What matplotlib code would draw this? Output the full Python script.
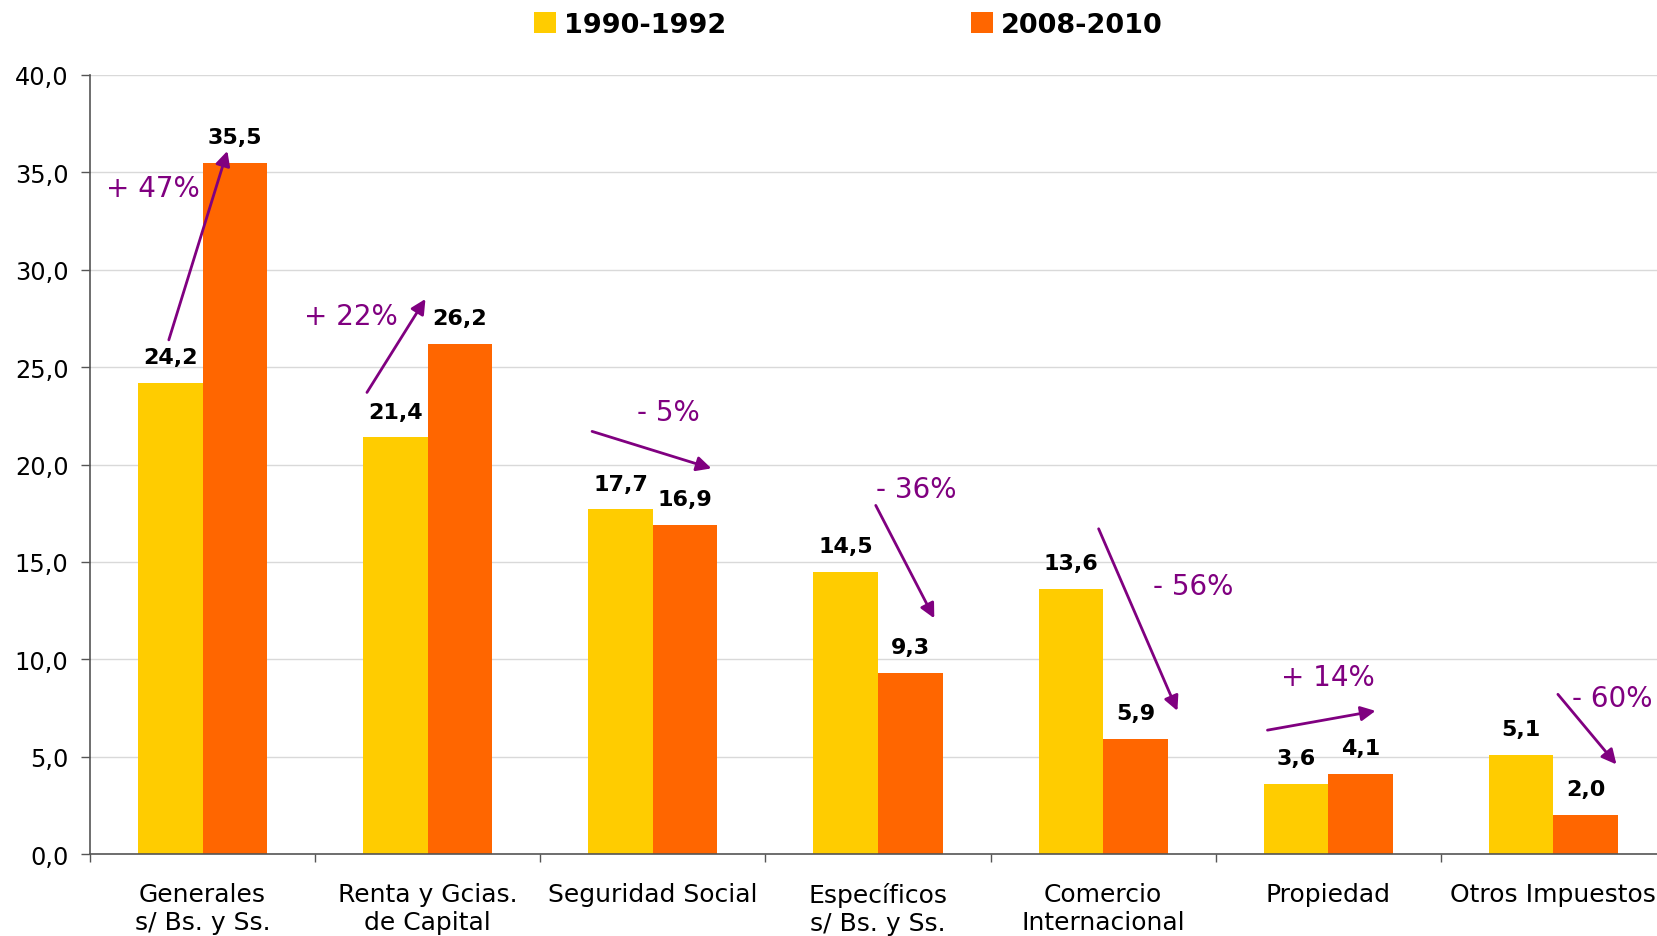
import numpy as np
import matplotlib.pyplot as plt

# datos
categorias = ["Generales\ns/ Bs. y Ss.", "Renta y Gcias.\nde Capital", "Seguridad Social",
              "Específicos\ns/ Bs. y Ss.", "Comercio\nInternacional", "Propiedad", "Otros Impuestos"]
v_1990 = [24.2, 21.4, 17.7, 14.5, 13.6, 3.6, 5.1]
v_2008 = [35.5, 26.2, 16.9, 9.3, 5.9, 4.1, 2.0]
series = ["1990-1992", "2008-2010"]
yticks = [0, 5, 10, 15, 20, 25, 30, 35, 40]
ytick_labels = ["0,0", "5,0", "10,0", "15,0", "20,0", "25,0", "30,0", "35,0", "40,0"]

# variaciones: texto, posicion del texto, inicio y fin de la flecha
var_txt = ["+ 47%", "+ 22%", "- 5%", "- 36%", "- 56%", "+ 14%", "- 60%"]
var_pos = [(-0.22, 34.2), (0.66, 27.6), (2.07, 22.7), (3.17, 18.75), (4.40, 13.75), (5.0, 9.1), (6.26, 8.0)]
flecha_ini = [(-0.15, 26.4), (0.73, 23.7), (1.73, 21.7), (2.99, 17.9), (3.98, 16.7), (4.73, 6.36), (6.02, 8.2)]
flecha_fin = [(0.11, 36.1), (0.99, 28.5), (2.26, 19.8), (3.25, 12.1), (4.33, 7.35), (5.21, 7.35), (6.28, 4.6)]

amarillo = "#FFCC00"
naranja = "#FF6600"
violeta = "#800080"

fig = plt.figure(figsize=(16.58, 9.37), dpi=100)
ax = fig.add_axes([0.0543, 0.0875, 0.9505, 0.8314])

x = np.arange(len(categorias))
w = 0.287
b1 = ax.bar(x - w / 2, v_1990, w, color=amarillo, label=series[0], zorder=2)
b2 = ax.bar(x + w / 2, v_2008, w, color=naranja, label=series[1], zorder=2)

def fmt(v):
    return ("%.1f" % v).replace(".", ",")

for xs, vals in [(x - w / 2, v_1990), (x + w / 2, v_2008)]:
    for xi, v in zip(xs, vals):
        ax.annotate(fmt(v), (xi, v), xytext=(0, 18.5), textcoords="offset points",
                    ha="center", va="center", fontsize=16, fontweight="bold", zorder=4)

for t, p, a, b in zip(var_txt, var_pos, flecha_ini, flecha_fin):
    ax.annotate("", xy=b, xytext=a,
                arrowprops=dict(arrowstyle="-|>", color=violeta, lw=2, mutation_scale=22,
                                shrinkA=0, shrinkB=0), zorder=5)
    ax.text(p[0], p[1], t, color=violeta, fontsize=20, ha="center", va="center", zorder=5)

ax.set_xlim(-0.5, len(categorias) - 0.5)
ax.set_ylim(0, 40)
ax.set_yticks(yticks)
ax.set_yticklabels(ytick_labels)
ax.tick_params(axis="y", labelsize=17.3, length=6.5, width=1, color="#555555", pad=9)

# separadores de categoria como ticks mayores, etiquetas en ticks menores
ax.set_xticks(np.arange(len(categorias) + 1) - 0.5)
ax.set_xticklabels([])
ax.set_xticks(x, minor=True)
ax.set_xticklabels(categorias, minor=True, fontsize=18)
ax.tick_params(axis="x", which="major", length=6, width=1, color="#555555")
ax.tick_params(axis="x", which="minor", length=0, pad=20)

ax.grid(axis="y", color="#d9d9d9", lw=1, zorder=0)
for s in ["top", "right"]:
    ax.spines[s].set_visible(False)
for s in ["left", "bottom"]:
    ax.spines[s].set_color("#555555")
    ax.spines[s].set_linewidth(1.2)

fig.legend(handles=[b1, b2], loc="center left", bbox_to_anchor=(0.322, 0.972), ncol=2,
           frameon=False, prop={"size": 19.5, "weight": "bold"}, handlelength=0.8, handleheight=0.8,
           handletextpad=0.3, columnspacing=9.05, borderpad=0, borderaxespad=0)

fig.savefig("out.png", dpi=100)
